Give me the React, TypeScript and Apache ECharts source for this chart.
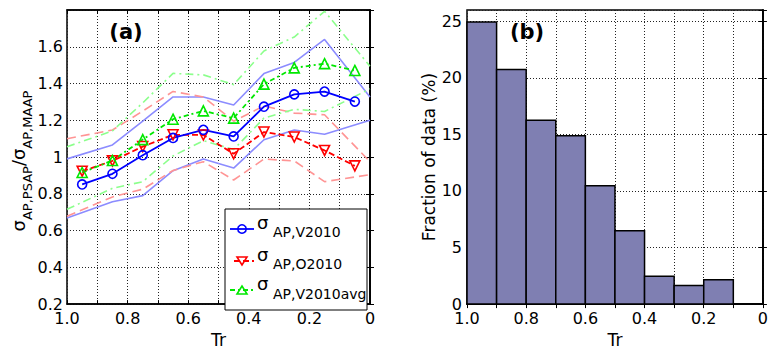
import React, { useEffect, useRef } from "react";
import * as echarts from "echarts";

// ---------- data ----------
const trCenters = [0.95, 0.85, 0.75, 0.65, 0.55, 0.45, 0.35, 0.25, 0.15, 0.05];
const bandTr = [1.0, 0.85, 0.75, 0.65, 0.55, 0.45, 0.35, 0.25, 0.15, 0.0];

const sigmaV2010 = [0.851, 0.909, 1.01, 1.104, 1.148, 1.112, 1.274, 1.341, 1.356, 1.302];
const sigmaO2010 = [0.923, 0.979, 1.057, 1.121, 1.12, 1.018, 1.136, 1.109, 1.036, 0.952];
const sigmaV2010avg = [0.916, 0.981, 1.095, 1.206, 1.251, 1.212, 1.397, 1.485, 1.508, 1.471];

const blueUpper = [0.99, 1.066, 1.196, 1.327, 1.327, 1.283, 1.454, 1.515, 1.64, 1.327];
const blueLower = [0.668, 0.757, 0.79, 0.926, 0.989, 0.94, 1.094, 1.147, 1.124, 1.2];
const redUpper = [1.1, 1.147, 1.25, 1.357, 1.327, 1.195, 1.278, 1.239, 1.23, 0.975];
const redLower = [0.678, 0.783, 0.825, 0.927, 0.975, 0.875, 0.989, 0.979, 0.866, 0.904];
const greenUpper = [1.056, 1.142, 1.295, 1.455, 1.447, 1.394, 1.577, 1.653, 1.793, 1.494];
const greenLower = [0.716, 0.83, 0.866, 1.006, 1.089, 1.041, 1.212, 1.26, 1.248, 1.371];

const histBinStart = [1.0, 0.9, 0.8, 0.7, 0.6, 0.5, 0.4, 0.3, 0.2];
const histBinEnd = [0.9, 0.8, 0.7, 0.6, 0.5, 0.4, 0.3, 0.2, 0.1];
const histFraction = [24.94, 20.75, 16.26, 14.89, 10.46, 6.49, 2.47, 1.64, 2.16];

const legendNames = ["AP,V2010", "AP,O2010", "AP,V2010avg"];

// ---------- styling ----------
const FONT = "DejaVu Sans";
const BLUE = "#0000ff";
const RED = "#ff0000";
const GREEN = "#00e800";
const BLUE_L = "#8c8cff";
const RED_L = "#ff9494";
const GREEN_L = "#8cff8c";

const zip = (xs: number[], ys: number[]) => xs.map((x, i) => [x, ys[i]]);

const xFmt = (v: number) => {
  const k = Math.round(v * 10);
  if (k % 2 !== 0) return "";
  if (k === 10) return "1.0";
  if (k === 0) return "0";
  return (k / 10).toFixed(1);
};

function xAxes(gridIndex: number) {
  const common = {
    gridIndex,
    type: "value",
    min: 0,
    max: 1,
    interval: 0.1,
    inverse: true,
  };
  return [
    {
      ...common,
      position: "bottom",
      name: "Tr",
      nameLocation: "middle",
      nameGap: 13,
      nameTextStyle: { fontFamily: FONT, fontSize: 17, color: "#000", verticalAlign: "top" },
      axisLine: { show: true, lineStyle: { color: "#000", width: 1.5 } },
      axisTick: { show: true, inside: true, length: 4, lineStyle: { color: "#000" } },
      axisLabel: {
        show: true,
        formatter: xFmt,
        fontFamily: FONT,
        fontSize: 16,
        color: "#000",
        margin: 6,
        showMinLabel: true,
        showMaxLabel: true,
      },
      splitLine: { show: true, lineStyle: { color: "#222", type: [1, 2], width: 1 } },
    },
    {
      ...common,
      position: "top",
      axisLine: { show: true, lineStyle: { color: "#000", width: 1.5 } },
      axisTick: { show: true, inside: true, length: 4, lineStyle: { color: "#000" } },
      axisLabel: { show: false },
      splitLine: { show: false },
    },
  ];
}

export default function App() {
  const ref = useRef<HTMLDivElement>(null);

  useEffect(() => {
    if (!ref.current) return;
    const chart = echarts.init(ref.current, null, { renderer: "svg" });

    const bandSeries = (data: number[], color: string, dash: any) => ({
      type: "line",
      xAxisIndex: 0,
      yAxisIndex: 0,
      data: zip(bandTr, data),
      symbol: "none",
      lineStyle: { color, width: 1.6, type: dash },
      z: 2,
      silent: true,
    });

    const mainSeries = (
      data: number[],
      color: string,
      dash: any,
      symbol: string,
      rotate: number,
      size: number
    ) => ({
      type: "line",
      xAxisIndex: 0,
      yAxisIndex: 0,
      data: zip(trCenters, data),
      symbol,
      symbolSize: size,
      symbolRotate: rotate,
      showAllSymbol: true,
      lineStyle: { color, width: 1.8, type: dash },
      itemStyle: { color: "rgba(0,0,0,0)", borderColor: color, borderWidth: 1.6 },
      z: 5,
      silent: true,
    });

    // legend (graphic)
    const lx0 = 225, ly0 = 209, lw = 142, lh = 101;
    const rowY = [229, 261, 290];
    const sigY = [222, 254, 283];
    const subY = [232, 264, 294];
    const legendGraphic: any[] = [
      {
        type: "rect",
        shape: { x: lx0, y: ly0, width: lw, height: lh },
        style: { fill: "#fff", stroke: "#000", lineWidth: 1 },
        z: 50,
      },
      { type: "line", shape: { x1: 230, y1: rowY[0], x2: 254, y2: rowY[0] }, style: { stroke: BLUE, lineWidth: 1.8 }, z: 51 },
      { type: "circle", shape: { cx: 242, cy: rowY[0], r: 4.2 }, style: { fill: "none", stroke: BLUE, lineWidth: 1.6 }, z: 52 },
      { type: "line", shape: { x1: 234, y1: rowY[1], x2: 254, y2: rowY[1] }, style: { stroke: RED, lineWidth: 1.8, lineDash: [6, 3] }, z: 51 },
      {
        type: "polygon",
        shape: { points: [[237, rowY[1] - 4], [247, rowY[1] - 4], [242, rowY[1] + 4]] },
        style: { fill: "none", stroke: RED, lineWidth: 1.6 },
        z: 52,
      },
      { type: "line", shape: { x1: 230, y1: rowY[2], x2: 254, y2: rowY[2] }, style: { stroke: GREEN, lineWidth: 1.8, lineDash: [5, 3, 2, 3] }, z: 51 },
      {
        type: "polygon",
        shape: { points: [[237, rowY[2] + 4], [247, rowY[2] + 4], [242, rowY[2] - 4]] },
        style: { fill: "none", stroke: GREEN, lineWidth: 1.6 },
        z: 52,
      },
    ];
    legendNames.forEach((nm, i) => {
      legendGraphic.push({
        type: "text",
        x: 257,
        y: sigY[i],
        style: { text: "σ", font: `18px '${FONT}'`, fill: "#000", align: "left", verticalAlign: "middle" },
        z: 53,
      });
      legendGraphic.push({
        type: "text",
        x: 273,
        y: subY[i],
        style: { text: nm, font: `14px '${FONT}'`, fill: "#000", align: "left", verticalAlign: "middle" },
        z: 53,
      });
    });

    const option: any = {
      animation: false,
      backgroundColor: "#fff",
      textStyle: { fontFamily: FONT },
      grid: [
        { left: 67, top: 10, width: 303, height: 303, show: true, borderColor: "#000", borderWidth: 1.5, backgroundColor: "transparent" },
        { left: 467, top: 10, width: 303, height: 303, show: true, borderColor: "#000", borderWidth: 1.5, backgroundColor: "transparent" },
      ],
      xAxis: [...xAxes(0), ...xAxes(1)],
      yAxis: [
        {
          gridIndex: 0,
          type: "value",
          min: 0.2,
          max: 1.8,
          interval: 0.2,
          position: "left",
          axisLine: { show: true, lineStyle: { color: "#000", width: 1.5 } },
          axisTick: { show: true, inside: true, length: 4, lineStyle: { color: "#000" } },
          axisLabel: {
            formatter: (v: number) => (v > 1.7 ? "" : String(+v.toFixed(1))),
            fontFamily: FONT,
            fontSize: 16,
            color: "#000",
            margin: 4,
          },
          splitLine: { show: true, lineStyle: { color: "#222", type: [1, 2], width: 1 } },
        },
        {
          gridIndex: 0,
          type: "value",
          min: 0.2,
          max: 1.8,
          interval: 0.2,
          position: "right",
          axisLine: { show: true, lineStyle: { color: "#000", width: 1.5 } },
          axisTick: { show: true, inside: true, length: 4, lineStyle: { color: "#000" } },
          axisLabel: { show: false },
          splitLine: { show: false },
        },
        {
          gridIndex: 1,
          type: "value",
          min: 0,
          max: 26,
          interval: 5,
          position: "left",
          name: "Fraction of data (%)",
          nameLocation: "middle",
          nameGap: 28,
          nameTextStyle: { fontFamily: FONT, fontSize: 17, color: "#000" },
          axisLine: { show: true, lineStyle: { color: "#000", width: 1.5 } },
          axisTick: { show: true, inside: true, length: 4, lineStyle: { color: "#000" } },
          axisLabel: {
            formatter: (v: number) => (v > 25.5 ? "" : String(v)),
            fontFamily: FONT,
            fontSize: 16,
            color: "#000",
            margin: 5,
          },
          splitLine: { show: true, lineStyle: { color: "#222", type: [1, 2], width: 1 } },
        },
        {
          gridIndex: 1,
          type: "value",
          min: 0,
          max: 26,
          interval: 5,
          position: "right",
          axisLine: { show: true, lineStyle: { color: "#000", width: 1.5 } },
          axisTick: { show: true, inside: true, length: 4, lineStyle: { color: "#000" } },
          axisLabel: { show: false },
          splitLine: { show: false },
        },
      ],
      series: [
        bandSeries(blueUpper, BLUE_L, "solid"),
        bandSeries(blueLower, BLUE_L, "solid"),
        bandSeries(redUpper, RED_L, [9, 5]),
        bandSeries(redLower, RED_L, [9, 5]),
        bandSeries(greenUpper, GREEN_L, [8, 4, 2, 4]),
        bandSeries(greenLower, GREEN_L, [8, 4, 2, 4]),
        mainSeries(sigmaO2010, RED, [6, 3], "triangle", 180, 10),
        mainSeries(sigmaV2010avg, GREEN, [5, 3, 2, 3], "triangle", 0, 10),
        mainSeries(sigmaV2010, BLUE, "solid", "circle", 0, 9),
        {
          type: "custom",
          xAxisIndex: 2,
          yAxisIndex: 2,
          data: histFraction.map((v, i) => [histBinStart[i], histBinEnd[i], v]),
          encode: { x: [0, 1], y: 2 },
          renderItem: (_p: any, api: any) => {
            const a = api.coord([api.value(0), api.value(2)]);
            const b = api.coord([api.value(1), 0]);
            return {
              type: "rect",
              shape: {
                x: Math.min(a[0], b[0]),
                y: Math.min(a[1], b[1]),
                width: Math.abs(b[0] - a[0]),
                height: Math.abs(b[1] - a[1]),
              },
              style: { fill: "#7f7fb2", stroke: "#000", lineWidth: 1.5 },
            };
          },
          z: 3,
          silent: true,
        },
      ],
      graphic: [
        {
          type: "text",
          x: 126,
          y: 32,
          style: { text: "(a)", font: `bold 21px '${FONT}'`, fill: "#000", align: "center", verticalAlign: "middle" },
          z: 60,
        },
        {
          type: "text",
          x: 527,
          y: 32,
          style: { text: "(b)", font: `bold 21px '${FONT}'`, fill: "#000", align: "center", verticalAlign: "middle" },
          z: 60,
        },
        {
          type: "text",
          x: 22,
          y: 161,
          rotation: Math.PI / 2,
          style: {
            text: "{s|σ}{b|AP,PSAP}{s|/σ}{b|AP,MAAP}",
            align: "center",
            verticalAlign: "middle",
            fill: "#000",
            rich: {
              s: { fontFamily: FONT, fontSize: 18, padding: [0, 0, 8, 0], fill: "#000" },
              b: { fontFamily: FONT, fontSize: 13, padding: [10, 0, 0, 0], fill: "#000" },
            },
          },
          z: 60,
        },
        ...legendGraphic,
      ],
    };

    chart.setOption(option);
    return () => chart.dispose();
  }, []);

  return (
    <div
      ref={ref}
      style={{ position: "absolute", left: 0, top: 0, width: 771, height: 353, background: "#fff" }}
    />
  );
}
